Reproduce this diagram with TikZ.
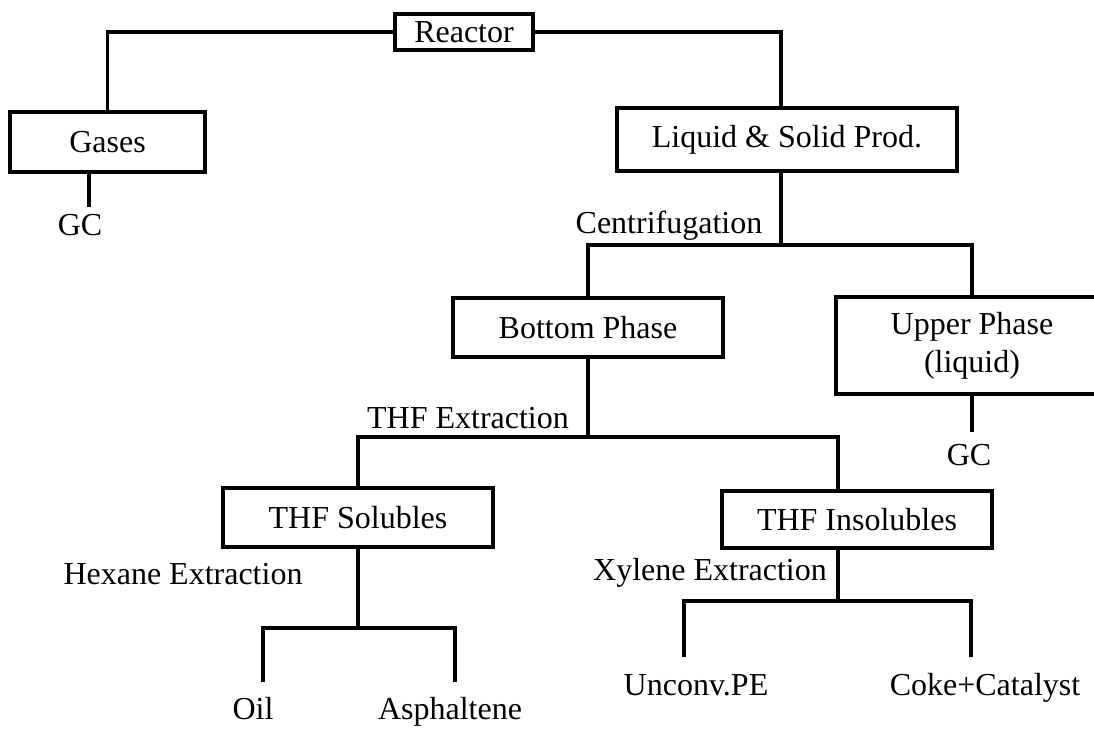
\documentclass[tikz,border=0pt]{standalone}
\usepackage{fontspec}
\setmainfont{Liberation Serif}
\usetikzlibrary{positioning,calc}

\begin{document}
\begin{tikzpicture}[
  x=0.5pt, y=-0.5pt,
  font=\fontsize{16}{19}\selectfont,
  box/.style={draw, line width=1.6pt, inner sep=0pt, align=center},
  tag/.style={inner sep=0pt, anchor=base},
  link/.style={line width=1.6pt}
]
  \path[use as bounding box, clip] (0,0) rectangle (1094,729);

  % boxes
  \node[box, minimum width=69pt, minimum height=18pt] (reactor) at (464,32) {Reactor};
  \node[box, minimum width=97.5pt, minimum height=30pt] (gases) at (107.5,142) {Gases};
  \node[box, minimum width=170pt, minimum height=31.5pt] (liquid) at (787,139.5) {Liquid \& Solid Prod.};
  \node[box, minimum width=135pt, minimum height=29.5pt] (bottom) at (588,327.5) {Bottom Phase};
  \node[box, minimum width=136pt, minimum height=48.5pt] (upper) at (972,345.5) {Upper Phase\\(liquid)};
  \node[box, minimum width=135pt, minimum height=29.5pt] (solubles) at (358,517.5) {THF Solubles};
  \node[box, minimum width=135pt, minimum height=28.5pt] (insolubles) at (857,519.5) {THF Insolubles};

  % labels
  \node[tag] (gc1) at (80,235) {GC};
  \node[tag] (centrif) at (669,233) {Centrifugation};
  \node[tag] (gc2) at (969,465) {GC};
  \node[tag] (thfext) at (468,428) {THF Extraction};
  \node[tag] (hexane) at (183,584) {Hexane Extraction};
  \node[tag] (xylene) at (710,580) {Xylene Extraction};
  \node[tag] (oil) at (253,719) {Oil};
  \node[tag] (asphalt) at (450,719) {Asphaltene};
  \node[tag] (unconv) at (696,695) {Unconv.PE};
  \node[tag] (coke) at (985,695) {Coke+Catalyst};

  % split points
  \coordinate (gcx) at (89,207);
  \coordinate (gc2x) at (972,432);
  \coordinate (centre) at (781,245);
  \coordinate (thf) at (588,437);
  \coordinate (insx) at (838,437);
  \coordinate (hex) at (358,628);
  \coordinate (oilend) at (263,682);
  \coordinate (aspend) at (455,682);
  \coordinate (xyl) at (838,601);
  \coordinate (peend) at (684,657);
  \coordinate (cokeend) at (971,657);

  % connectors
  \draw[link] (reactor.west) -| (gases.north);
  \draw[link] (reactor.east) -| ([xshift=-3pt]liquid.north);
  \draw[link] (gases.south -| gcx) -- (gcx);
  \draw[link] (liquid.south -| centre) -- (centre);
  \draw[link] (bottom.north) |- (centre) -| (upper.north);
  \draw[link] (upper.south) -- (gc2x);
  \draw[link] (bottom.south) -- (thf);
  \draw[link] (solubles.north) |- (thf) -- (insx) -- (insolubles.north -| insx);
  \draw[link] (solubles.south) -- (hex);
  \draw[link] (oilend) |- (hex) -| (aspend);
  \draw[link] (insolubles.south -| xyl) -- (xyl);
  \draw[link] (peend) |- (xyl) -| (cokeend);
\end{tikzpicture}
\end{document}
